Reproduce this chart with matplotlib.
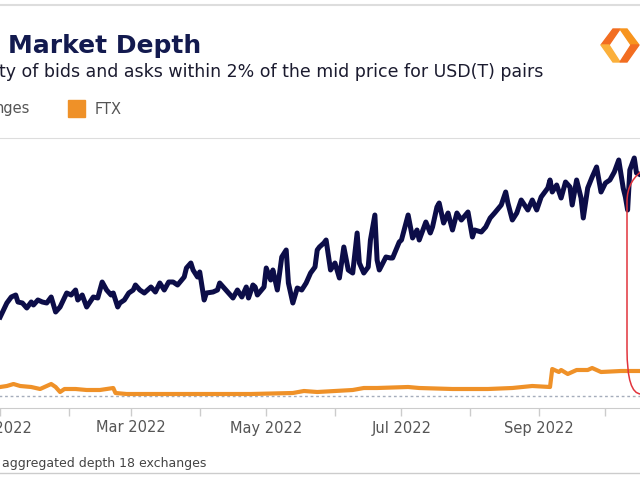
import matplotlib
matplotlib.use("Agg")
import matplotlib.pyplot as plt
import matplotlib.dates as mdates
import matplotlib.transforms as mtransforms
from matplotlib.patches import FancyBboxPatch, Polygon, Rectangle
from matplotlib.lines import Line2D
import numpy as np

# Values (days since 1 Jan 2022, depth in chart units)
start = np.datetime64("2022-01-01")

all_days = [
    0, 3, 5, 7, 8, 10, 12, 14, 15, 17,
    19, 21, 23, 25, 27, 30, 32, 34, 35, 37,
    39, 42, 44, 46, 48, 50, 51, 53, 54, 56,
    58, 60, 61, 63, 65, 68, 70, 72, 74, 76,
    78, 80, 83, 84, 86, 87, 89, 90, 92, 93,
    96, 98, 99, 101, 103, 105, 107, 109, 111, 112,
    114, 115, 116, 119, 120, 122, 123, 125, 127, 129,
    130, 132, 134, 136, 138, 140, 142, 143, 144, 146,
    147, 149, 151, 153, 155, 157, 159, 161, 162, 164,
    166, 167, 169, 170, 171, 174, 176, 177, 180, 181,
    184, 186, 188, 189, 192, 194, 195, 197, 198, 200,
    202, 204, 206, 208, 211, 213, 214, 217, 219, 221,
    223, 226, 228, 229, 231, 233, 235, 238, 240, 242,
    244, 247, 248, 249, 251, 253, 255, 257, 258, 260,
    262, 263, 265, 267, 269, 271, 273, 275, 277, 279,
    281, 282, 283, 284, 286, 287, 289,
]
all_depth = [
    79, 93, 99, 101, 94, 93, 88, 94, 91, 96,
    94, 93, 99, 84, 89, 103, 101, 106, 96, 101,
    89, 99, 98, 114, 106, 101, 103, 89, 93, 96,
    103, 106, 111, 106, 103, 109, 104, 113, 106, 114,
    114, 111, 119, 128, 133, 126, 119, 124, 96, 103,
    104, 106, 113, 108, 103, 98, 106, 99, 109, 98,
    111, 109, 101, 109, 128, 116, 126, 106, 139, 146,
    113, 93, 108, 106, 113, 123, 129, 146, 149, 153,
    156, 126, 133, 118, 149, 126, 123, 163, 133, 123,
    129, 156, 181, 136, 126, 139, 138, 138, 154, 156,
    181, 158, 166, 156, 174, 163, 169, 189, 193, 173,
    183, 166, 183, 176, 184, 159, 166, 164, 169, 178,
    183, 191, 204, 193, 176, 183, 196, 186, 196, 186,
    199, 208, 216, 204, 211, 198, 214, 209, 191, 216,
    198, 178, 208, 219, 229, 204, 213, 216, 224, 236,
    208, 199, 186, 226, 238, 223, 221,
]

ftx_days = [0, 3, 6, 9, 14, 18, 21, 23, 25, 27, 29, 34, 39, 45, 51, 52, 57,
            68, 90, 113, 132, 137, 143, 159, 164, 170, 184, 189, 204, 220,
            231, 240, 248, 249, 252, 253, 256, 260, 265, 267, 271, 280, 289]
ftx_depth = [9, 10, 12, 10, 9, 7, 10, 12, 9, 4, 7, 7, 6, 6, 8, 3, 2,
             2, 2, 2, 3, 5, 4, 6, 8, 8, 9, 8, 7, 7,
             8, 10, 9, 27, 24, 26, 22, 26, 26, 28, 24, 25, 25]

all_dates = start + np.array(all_days).astype("timedelta64[D]")
ftx_dates = start + np.array(ftx_days).astype("timedelta64[D]")

NAVY = "#0c0d48"
ORANGE = "#ef9128"

fig = plt.figure(figsize=(6.4, 4.8), dpi=100)
fig.patch.set_facecolor("white")
px = mtransforms.Affine2D().scale(1 / 640, 1 / 480) + fig.transFigure

# plot area runs past both figure edges (the picture is a crop)
ax = fig.add_axes([-40 / 640, 72 / 480, 760 / 640, 270 / 480])
ax.plot(all_dates, all_depth, color=NAVY, lw=3.6, solid_joinstyle="round", zorder=3)
ax.plot(ftx_dates, ftx_depth, color=ORANGE, lw=3.0, zorder=3)
ax.axhline(0, color="#a5adbb", lw=1, ls=(0, (2, 2)), zorder=1)

t0 = mdates.date2num(start)
ax.set_xlim(t0 - 18.13, t0 + 324.67)
ax.set_ylim(-12, 258)

ax.xaxis.set_major_locator(mdates.MonthLocator(bymonth=[1, 3, 5, 7, 9, 11]))
ax.xaxis.set_major_formatter(mdates.DateFormatter("%b %Y"))
ax.xaxis.set_minor_locator(mdates.MonthLocator(bymonth=[2, 4, 6, 8, 10, 12]))
ax.tick_params(axis="x", which="both", length=6, color="#cccccc", width=1,
               labelsize=10.5, labelcolor="#555555", pad=3)
ax.set_yticks([])
for side in ["left", "right"]:
    ax.spines[side].set_visible(False)
ax.spines["top"].set_color("#dddddd")
ax.spines["bottom"].set_color("#cccccc")

# highlight box around the collapse
ax_box = FancyBboxPatch((627, 86), 90, 237, boxstyle="round,pad=0,rounding_size=14",
                        mutation_aspect=3.2, transform=px, fill=False,
                        edgecolor="#e2343c", lw=1.1, zorder=5)
fig.patches.append(ax_box)

# header
fig.text(8, 427, "Market Depth", transform=px, fontsize=18, fontweight="bold",
         color="#131a4f", ha="left", va="baseline")
fig.text(-1, 403, "ty of bids and asks within 2% of the mid price for USD(T) pairs",
         transform=px, fontsize=12.5, color="#1b1b2f", ha="left", va="baseline")

# legend
fig.text(-5, 371, "nges", transform=px, fontsize=10.5, color="#555555",
         ha="left", va="center")
fig.patches.append(Rectangle((68, 363), 17, 17, transform=px, color=ORANGE))
fig.text(95, 371, "FTX", transform=px, fontsize=10.5, color="#555555",
         ha="left", va="center")

# logo (two chevrons)
fig.patches.append(Polygon([(613, 451), (601, 435), (609, 435), (620, 451)],
                           closed=True, transform=px, color="#f26d21"))
fig.patches.append(Polygon([(601, 435), (613, 418), (620, 418), (609, 435)],
                           closed=True, transform=px, color="#fbb03b"))
fig.patches.append(Polygon([(627, 451), (639, 435), (631, 435), (620, 451)],
                           closed=True, transform=px, color="#f7941d"))
fig.patches.append(Polygon([(639, 435), (627, 418), (620, 418), (631, 435)],
                           closed=True, transform=px, color="#f26d21"))

# frame lines and footer
fig.lines.append(Line2D([0, 640], [475, 475], transform=px, color="#dddddd", lw=1.5))
fig.lines.append(Line2D([0, 640], [7, 7], transform=px, color="#cccccc", lw=1))
fig.text(2, 16, "aggregated depth 18 exchanges", transform=px, fontsize=9,
         color="#444444", ha="left", va="center")

fig.savefig("out.png", dpi=100)
